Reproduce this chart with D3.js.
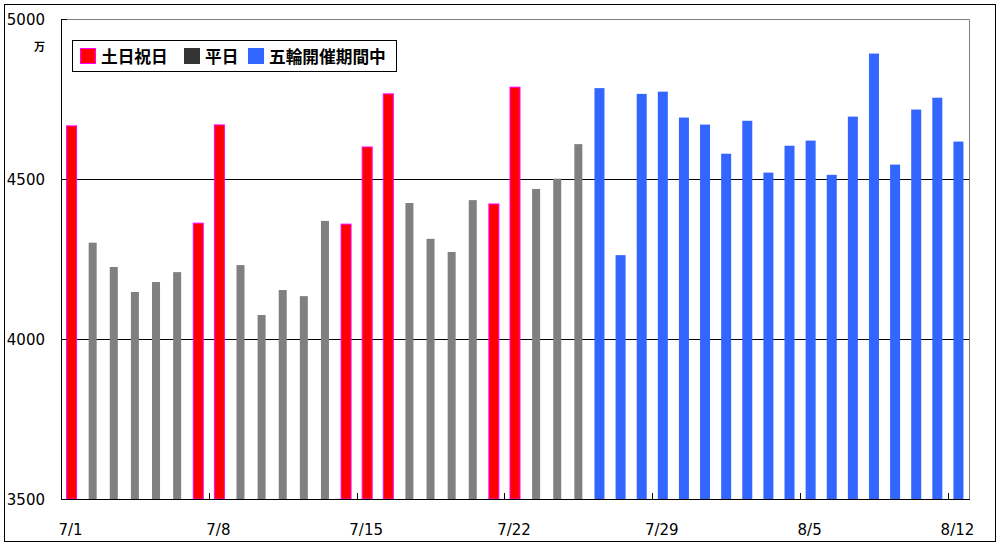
<!DOCTYPE html>
<head>
  <meta charset="utf-8">
  <script src="https://d3js.org/d3.v7.min.js"></script>
  <style>
    body { margin:0; background:#fff; }
    text { font-family: 'DejaVu Sans', sans-serif; }
    .tick-label { font-size: 15px; fill: #000; }
    .legend-label { font-family: 'Noto Sans CJK JP', sans-serif; font-size: 16.7px; font-weight: 700; fill: #000; }
    .unit { font-family: 'Noto Sans CJK JP', sans-serif; font-size: 11px; font-weight: 700; }
  </style>
</head>
<body>
  <script>
    var days = ["7/1","7/2","7/3","7/4","7/5","7/6","7/7","7/8","7/9","7/10",
      "7/11","7/12","7/13","7/14","7/15","7/16","7/17","7/18","7/19","7/20",
      "7/21","7/22","7/23","7/24","7/25","7/26","7/27","7/28","7/29","7/30",
      "7/31","8/1","8/2","8/3","8/4","8/5","8/6","8/7","8/8","8/9",
      "8/10","8/11","8/12"];

    // 0 = 土日祝日, 1 = 平日, 2 = 五輪開催期間中
    var kinds = [0,1,1,1,1,1,0,0,1,1,
      1,1,1,0,0,0,1,1,1,1,
      0,0,1,1,1,2,2,2,2,2,
      2,2,2,2,2,2,2,2,2,2,
      2,2,2];

    var values = [4666,4301,4225,4147,4178,4209,4362,4669,4231,4075,
      4153,4134,4369,4359,4600,4766,4425,4313,4272,4434,
      4422,4787,4469,4501,4609,4784,4262,4766,4773,4692,
      4670,4579,4682,4520,4604,4620,4513,4695,4892,4545,
      4717,4754,4617];

    var legendNames = ["土日祝日", "平日", "五輪開催期間中"];
    var yTicks = [3500, 4000, 4500, 5000];
    var xTickDays = ["7/1","7/8","7/15","7/22","7/29","8/5","8/12"];

    var W = 999, H = 547;
    var plot = {left: 61, right: 969, top: 19, bottom: 499};

    var barFill = ["#ff0000", "#808080", "#3366ff"];
    var barWidth = [10, 8, 10];
    var swatch = ["#ff0000", "#333333", "#3366ff"];

    var svg = d3.select("body").append("svg")
      .attr("width", W)
      .attr("height", H);

    // outer frame
    svg.append("rect")
      .attr("x", 4.5).attr("y", 4.5)
      .attr("width", 991).attr("height", 537)
      .attr("fill", "#fff")
      .attr("stroke", "#000");

    var x = d3.scaleBand()
      .domain(days)
      .range([plot.left, plot.right])
      .padding(0);

    var y = d3.scaleLinear()
      .domain([3500, 5000])
      .range([plot.bottom, plot.top]);

    // plot border (top/right gray)
    svg.append("path")
      .attr("d", "M" + plot.left + "," + (plot.top + 0.5) + "H" + (plot.right + 0.5) + "V" + plot.bottom)
      .attr("fill", "none")
      .attr("stroke", "#808080");

    // grid lines
    svg.append("g").selectAll("line")
      .data(yTicks.filter(d => d > 3500 && d < 5000))
      .enter().append("line")
        .attr("x1", plot.left).attr("x2", plot.right)
        .attr("y1", d => Math.round(y(d)) + 0.5)
        .attr("y2", d => Math.round(y(d)) + 0.5)
        .attr("stroke", "#000");

    // bars
    svg.append("g").selectAll("rect")
      .data(values.map((v, i) => ({day: days[i], value: v, kind: kinds[i]})))
      .enter().append("rect")
        .attr("x", d => x(d.day) + x.bandwidth() / 2 - barWidth[d.kind] / 2)
        .attr("y", d => y(d.value))
        .attr("width", d => barWidth[d.kind])
        .attr("height", d => y(3500) - y(d.value))
        .attr("fill", d => barFill[d.kind])
        .attr("stroke", d => d.kind == 0 ? "#ff00ff" : "none")
        .attr("stroke-width", 1);

    // axes lines
    svg.append("line")
      .attr("x1", plot.left + 0.5).attr("x2", plot.left + 0.5)
      .attr("y1", plot.top).attr("y2", plot.bottom + 0.5)
      .attr("stroke", "#000");
    svg.append("line")
      .attr("x1", plot.left).attr("x2", plot.right + 1)
      .attr("y1", plot.bottom + 0.5).attr("y2", plot.bottom + 0.5)
      .attr("stroke", "#000");

    // y ticks + labels
    var yg = svg.append("g");
    yg.selectAll("line")
      .data(yTicks)
      .enter().append("line")
        .attr("x1", plot.left).attr("x2", plot.left + 6)
        .attr("y1", d => Math.round(y(d)) + 0.5)
        .attr("y2", d => Math.round(y(d)) + 0.5)
        .attr("stroke", "#000");
    yg.selectAll("text")
      .data(yTicks)
      .enter().append("text")
        .attr("class", "tick-label")
        .attr("x", 45)
        .attr("y", d => y(d) + 6)
        .attr("text-anchor", "end")
        .text(d => d);

    svg.append("text")
      .attr("class", "unit")
      .attr("x", 45).attr("y", 51)
      .attr("text-anchor", "end")
      .text("万");

    // x ticks at week boundaries + labels
    var xg = svg.append("g");
    xg.selectAll("line")
      .data(xTickDays.slice(1))
      .enter().append("line")
        .attr("x1", d => Math.round(x(d)) + 0.5)
        .attr("x2", d => Math.round(x(d)) + 0.5)
        .attr("y1", plot.bottom - 6).attr("y2", plot.bottom)
        .attr("stroke", "#000");
    xg.selectAll("text")
      .data(xTickDays)
      .enter().append("text")
        .attr("class", "tick-label")
        .attr("x", d => x(d) + x.bandwidth() / 2 - 1)
        .attr("y", 535)
        .attr("text-anchor", "middle")
        .text(d => d);

    // legend
    var lg = svg.append("g");
    lg.append("rect")
      .attr("x", 72.5).attr("y", 40.5)
      .attr("width", 324).attr("height", 31)
      .attr("fill", "#fff")
      .attr("stroke", "#000");

    var legendX = [80, 184, 248];
    var items = lg.selectAll("g.item")
      .data(legendNames)
      .enter().append("g")
        .attr("class", "item")
        .attr("transform", (d, i) => "translate(" + legendX[i] + ",48)");
    items.append("rect")
      .attr("x", 0.5).attr("y", 0.5)
      .attr("width", 15).attr("height", 15)
      .attr("fill", (d, i) => swatch[i])
      .attr("stroke", (d, i) => i == 0 ? "#ff00ff" : swatch[i]);
    items.append("text")
      .attr("class", "legend-label")
      .attr("x", 21)
      .attr("y", 14.5)
      .text(d => d);
  </script>
</body>
